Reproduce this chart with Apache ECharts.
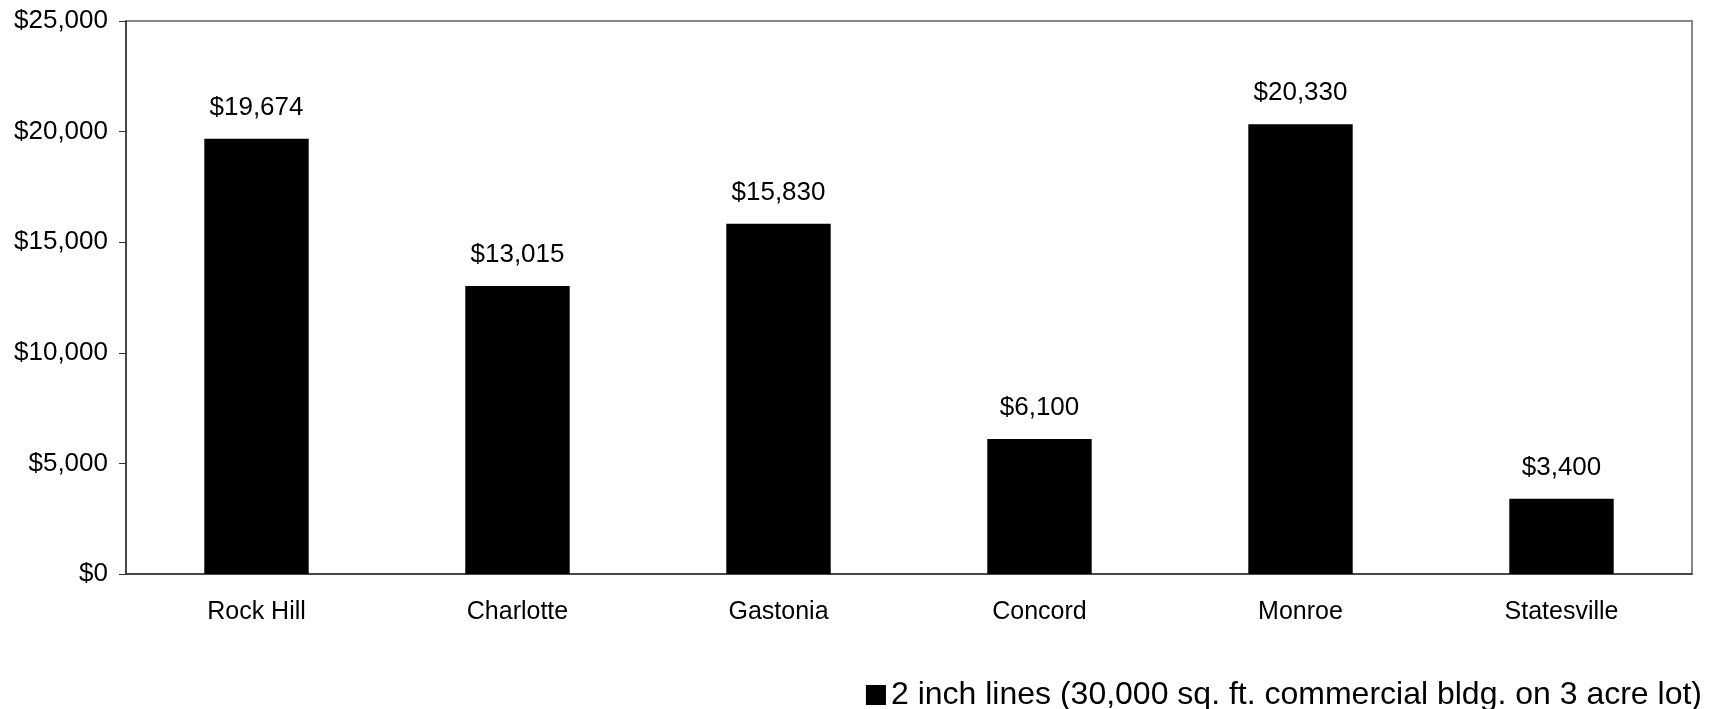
<!DOCTYPE html>
<html>
<head>
<meta charset="utf-8">
<script src="https://cdn.jsdelivr.net/npm/echarts@6/dist/echarts.min.js"></script>
<style>
  html, body { margin: 0; padding: 0; background: #fff; }
  #main { width: 1715px; height: 709px; }
</style>
</head>
<body>
<div id="main"></div>
<script>
// data
let cities = ['Rock Hill', 'Charlotte', 'Gastonia', 'Concord', 'Monroe', 'Statesville'];
let costs = [19674, 13015, 15830, 6100, 20330, 3400];
let seriesName = '2 inch lines (30,000 sq. ft. commercial bldg. on 3 acre lot)';

function money(v) {
    return '$' + Number(v).toLocaleString('en-US');
}

let font = 'Liberation Sans, Arial, sans-serif';

let option = {
    animation: false,
    backgroundColor: '#fff',
    grid: {
        left: 126, right: 23, top: 21, bottom: 135,
        show: true,
        borderColor: '#888',
        borderWidth: 2
    },
    legend: {
        right: 8,
        top: 674,
        itemWidth: 20,
        itemHeight: 20,
        itemGap: 6,
        icon: 'rect',
        textStyle: { color: '#000', fontSize: 32, fontFamily: font },
        data: [seriesName]
    },
    xAxis: {
        type: 'category',
        data: cities,
        axisLine: { lineStyle: { color: '#333', width: 1.5 } },
        axisTick: { length: 6, lineStyle: { color: '#333' } },
        axisLabel: { color: '#000', fontSize: 25, fontFamily: font, margin: 26 }
    },
    yAxis: {
        type: 'value',
        min: 0,
        max: 25000,
        interval: 5000,
        splitLine: { show: false },
        axisLine: { show: true, lineStyle: { color: '#333', width: 1.5 } },
        axisTick: { show: true, length: 7, lineStyle: { color: '#333' } },
        axisLabel: {
            color: '#000', fontSize: 26, fontFamily: font, margin: 18,
            formatter: money
        }
    },
    series: [
        {
            name: seriesName,
            type: 'bar',
            data: costs,
            barWidth: '40%',
            itemStyle: { color: '#000' },
            label: {
                show: true,
                position: 'top',
                distance: 18,
                color: '#000',
                fontSize: 26,
                fontFamily: font,
                formatter: p => money(p.value)
            }
        }
    ]
};

let chart = echarts.init(document.getElementById('main'));
chart.setOption(option);
</script>
</body>
</html>
